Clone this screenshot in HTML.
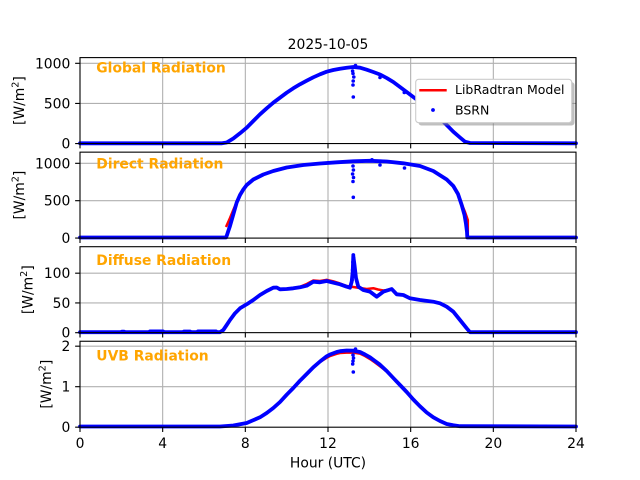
<!DOCTYPE html>
<html>
<head>
<meta charset="utf-8">
<style>
  html, body { margin: 0; padding: 0; background: #ffffff; }
  svg { display: block; }
  text { font-family: "DejaVu Sans", "Liberation Sans", sans-serif; }
</style>
</head>
<body>
<svg width="640" height="480" viewBox="0 0 640 480" xmlns="http://www.w3.org/2000/svg">
  <rect x="0" y="0" width="640" height="480" fill="#ffffff"/>

  <!-- ===== GRID ===== -->
  <g stroke="#b0b0b0" stroke-width="1.1" fill="none">
    <path d="M162.67 57.6V143.55 M245.33 57.6V143.55 M328 57.6V143.55 M410.67 57.6V143.55 M493.33 57.6V143.55"/>
    <path d="M162.67 152.15V238.1 M245.33 152.15V238.1 M328 152.15V238.1 M410.67 152.15V238.1 M493.33 152.15V238.1"/>
    <path d="M162.67 246.7V332.65 M245.33 246.7V332.65 M328 246.7V332.65 M410.67 246.7V332.65 M493.33 246.7V332.65"/>
    <path d="M162.67 341.25V427.2 M245.33 341.25V427.2 M328 341.25V427.2 M410.67 341.25V427.2 M493.33 341.25V427.2"/>
    <path d="M80 103.4H576 M80 63.3H576"/>
    <path d="M80 200.7H576 M80 163.3H576"/>
    <path d="M80 302.9H576 M80 273.15H576"/>
    <path d="M80 386.7H576 M80 346.2H576"/>
  </g>

  <!-- ===== AXES 1: GLOBAL ===== -->
  <polyline fill="none" stroke="#ff0000" stroke-width="2.5" stroke-linejoin="round"
    points="80,143.3 222,143.3 226.7,142.5 233.3,138.5 240,133.3 246.7,127.7 253.3,121 260,114.3 266.7,108.3 273.3,102.7 280,97.7 286.7,92.7 293.3,88.3 300,84.3 306.7,80.7 313.3,77.3 320,74.3 326.7,71.7 333.3,70 340,68.7 346.7,67.8 353.3,67.2 360,67.7 366.7,69.7 373.3,72 380,74.5 386.7,78 393.3,82 400,87 406.7,92 413.3,97 420,102 426.7,107.5 433.3,113 440,118.3 446.7,125 453.3,131.7 460,137.5 465,141.7 470,143 576,143.3"/>
  <polyline fill="none" stroke="#0000ff" stroke-width="3.8" stroke-linejoin="round" stroke-linecap="round"
    points="80,143.3 222,143.3 226.7,142.5 233.3,138.5 240,133.3 246.7,127.7 253.3,121 260,114.3 266.7,108.3 273.3,102.7 280,97.7 286.7,92.7 293.3,88.3 300,84.3 306.7,80.7 313.3,77.3 320,74.3 326.7,71.7 333.3,70 340,68.7 346.7,67.8 353.3,67 360,67.7 366.7,69.7 373.3,72 380,74.5 386.7,78 393.3,82 400,87 406.7,92 413.3,97 420,102 426.7,107.5 433.3,113 440,118.3 446.7,125 453.3,131.7 460,137.5 465,141.7 470,143 576,143.3"/>
  <g fill="#0000ff">
    <circle cx="353.3" cy="97" r="1.8"/>
    <circle cx="353" cy="85" r="1.8"/>
    <circle cx="353.2" cy="81" r="1.8"/>
    <circle cx="353.8" cy="77" r="1.8"/>
    <circle cx="353" cy="73.5" r="1.8"/>
    <circle cx="352.6" cy="71" r="1.8"/>
    <circle cx="380" cy="77.5" r="1.8"/>
    <circle cx="404.3" cy="92.5" r="1.8"/>
    <circle cx="355.5" cy="65.5" r="1.8"/>
  </g>

  <!-- ===== AXES 2: DIRECT ===== -->
  <polyline fill="none" stroke="#ff0000" stroke-width="2.5" stroke-linejoin="round"
    points="226,227 230,218 233.3,210 236.7,202 240,195 243.3,189.5 246.7,185 253.3,179.5 263.3,174.5 273.3,171 286.7,167.5 303.3,165 320,163.5 336.7,162.3 353.3,161.3 370,160.8 386.7,161.5 403.3,163.3 420,166 433.3,171 446.7,179.5 453.3,186 458,194 461.7,204 465,212 467.8,220 467.8,237.5"/>
  <polyline fill="none" stroke="#0000ff" stroke-width="3.8" stroke-linejoin="round" stroke-linecap="round"
    points="80,237.5 226,237.5 227,235 228.3,231 230,226 233.3,214.5 236.7,202.5 240,195 243.3,189.5 246.7,185 253.3,179.5 263.3,174.5 273.3,171 286.7,167.5 303.3,165 320,163.5 336.7,162.3 353.3,161.3 370,160.8 386.7,161.5 403.3,163.3 420,166 433.3,171 446.7,179.5 453.3,186 458,194 461.7,205 464.5,215 466,224 467,232 467.3,237.5 576,237.5"/>
  <g fill="#0000ff">
    <circle cx="353.3" cy="197.3" r="1.8"/>
    <circle cx="353" cy="166" r="1.8"/>
    <circle cx="353.4" cy="170" r="1.8"/>
    <circle cx="352.6" cy="174" r="1.8"/>
    <circle cx="353.5" cy="177.5" r="1.8"/>
    <circle cx="353" cy="181.5" r="1.8"/>
    <circle cx="380" cy="165" r="1.8"/>
    <circle cx="404.5" cy="168" r="1.8"/>
    <circle cx="372" cy="159.8" r="1.8"/>
  </g>

  <!-- ===== AXES 3: DIFFUSE ===== -->
  <polyline fill="none" stroke="#ff0000" stroke-width="2.5" stroke-linejoin="round"
    points="80,332.2 220,332.2 223.3,330 226.7,325 230,320 235,313.3 240,308.3 246.7,304.3 253.3,300 260,295 266.7,291 273.3,287.7 276.7,287.5 280,289.3 286.7,289 293.3,288 300,286.8 306.7,284 313.3,280.5 320,281 326.7,279.8 333.3,281.3 340,283.5 346.7,286 353.3,287 360,288 366.7,289 373.3,288.2 378,289.5 383.3,290.5 391.7,289.5 396.7,294 403.3,295 410,298.3 420,300 433.3,301.7 440,303.3 446.7,306.7 453.3,311.7 460,320 466.7,328.3 470,332.2 576,332.2"/>
  <polyline fill="none" stroke="#0000ff" stroke-width="3.8" stroke-linejoin="round" stroke-linecap="round"
    points="80,332.2 220,332.2 223.3,330 226.7,325 230,320 235,313.3 240,308.3 246.7,304.3 253.3,300 260,295 266.7,291 273.3,287.7 276.7,287.5 280,289.3 286.7,289 293.3,288.3 300,287.3 306.7,285.7 313.3,281.7 320,282.3 326.7,281 333.3,282.7 340,284.3 346.7,286.7 350,287.7 351.7,281.7 352.7,271.7 353.3,256 354.5,265 356,278 358.3,286.7 363.3,290 370,291.7 376.7,296.7 383.3,291.7 391.7,289 396.7,294.3 403.3,295 410,298.3 420,300 433.3,301.7 440,303.3 446.7,306.7 453.3,311.7 460,320 466.7,328.3 470,332.2 576,332.2"/>
  <g fill="#0000ff">
    <circle cx="353.3" cy="255" r="1.9"/>
    <circle cx="353.5" cy="258" r="1.9"/>
    <circle cx="353" cy="262" r="1.9"/>
    <circle cx="353.2" cy="266" r="1.9"/>
    <circle cx="352.7" cy="270" r="1.9"/>
    <circle cx="352.4" cy="275" r="1.9"/>
    <circle cx="352" cy="280" r="1.9"/>
  </g>
  <g stroke="#0000ff" stroke-width="3.8" stroke-linecap="round">
    <path d="M122 331.6H124 M150 331.4H163 M184 331.5H190 M198 331.4H216"/>
  </g>

  <!-- ===== AXES 4: UVB ===== -->
  <polyline fill="none" stroke="#ff0000" stroke-width="2.5" stroke-linejoin="round"
    points="80,426.5 220,426.5 233.3,425.5 246.7,423 260,417.3 266.7,413 273.3,408 280,402 286.7,394.7 293.3,388 300,380.7 306.7,374 313.3,367.3 320,362 326.7,357.8 330,356 336.7,353.8 340,353 346.7,352.6 353.3,352.6 360,353.6 365,356 370,359 375,362.5 380,366.3 386.7,371.5 393.3,378 400,385 406.7,392 413.3,399.5 420,406.3 426.7,412.5 433.3,417.3 440,421 446.7,424 453.3,425.3 460,426.2 576,426.5"/>
  <polyline fill="none" stroke="#0000ff" stroke-width="3.8" stroke-linejoin="round" stroke-linecap="round"
    points="80,426.5 220,426.5 233.3,425.5 246.7,423 260,417.3 266.7,413 273.3,408 280,402 286.7,394.7 293.3,388 300,380.7 306.7,374 313.3,367.3 320,361.5 326.7,356.3 330,354.5 336.7,352 340,351.2 346.7,350.5 353.3,350.7 360,352 365,354.5 370,357.3 375,361 380,364.7 386.7,371 393.3,378 400,385 406.7,392 413.3,399.5 420,406.3 426.7,412.5 433.3,417.3 440,421 446.7,424 453.3,425.3 460,426.2 576,426.5"/>
  <g fill="#0000ff">
    <circle cx="353.3" cy="372" r="1.8"/>
    <circle cx="353" cy="355" r="1.8"/>
    <circle cx="353.5" cy="358" r="1.8"/>
    <circle cx="353" cy="361" r="1.8"/>
    <circle cx="352.7" cy="364" r="1.8"/>
    <circle cx="355.5" cy="349" r="1.8"/>
  </g>

  <!-- ===== SPINES ===== -->
  <g fill="none" stroke="#000000" stroke-width="1.1">
    <rect x="80" y="57.6" width="496" height="85.95"/>
    <rect x="80" y="152.15" width="496" height="85.95"/>
    <rect x="80" y="246.7" width="496" height="85.95"/>
    <rect x="80" y="341.25" width="496" height="85.95"/>
  </g>

  <!-- ===== TICKS ===== -->
  <g stroke="#000000" stroke-width="1.1">
    <path d="M80 143.55v4.86 M162.67 143.55v4.86 M245.33 143.55v4.86 M328 143.55v4.86 M410.67 143.55v4.86 M493.33 143.55v4.86 M576 143.55v4.86"/>
    <path d="M80 238.1v4.86 M162.67 238.1v4.86 M245.33 238.1v4.86 M328 238.1v4.86 M410.67 238.1v4.86 M493.33 238.1v4.86 M576 238.1v4.86"/>
    <path d="M80 332.65v4.86 M162.67 332.65v4.86 M245.33 332.65v4.86 M328 332.65v4.86 M410.67 332.65v4.86 M493.33 332.65v4.86 M576 332.65v4.86"/>
    <path d="M80 427.2v4.86 M162.67 427.2v4.86 M245.33 427.2v4.86 M328 427.2v4.86 M410.67 427.2v4.86 M493.33 427.2v4.86 M576 427.2v4.86"/>
    <path d="M80 143.55h-4.86 M80 103.4h-4.86 M80 63.3h-4.86"/>
    <path d="M80 238.1h-4.86 M80 200.7h-4.86 M80 163.3h-4.86"/>
    <path d="M80 332.65h-4.86 M80 302.9h-4.86 M80 273.15h-4.86"/>
    <path d="M80 427.2h-4.86 M80 386.7h-4.86 M80 346.2h-4.86"/>
  </g>

  <!-- ===== Y TICK LABELS ===== -->
  <g font-size="13.89" fill="#000000" text-anchor="end">
    <text x="70.3" y="148.6">0</text>
    <text x="70.3" y="108.4">500</text>
    <text x="70.3" y="68.3">1000</text>

    <text x="70.3" y="243.1">0</text>
    <text x="70.3" y="205.7">500</text>
    <text x="70.3" y="168.3">1000</text>

    <text x="70.3" y="337.7">0</text>
    <text x="70.3" y="307.9">50</text>
    <text x="70.3" y="278.2">100</text>

    <text x="70.3" y="432.2">0</text>
    <text x="70.3" y="391.7">1</text>
    <text x="70.3" y="351.2">2</text>
  </g>

  <!-- ===== X TICK LABELS ===== -->
  <g font-size="13.89" fill="#000000" text-anchor="middle">
    <text x="80" y="448">0</text>
    <text x="162.67" y="448">4</text>
    <text x="245.33" y="448">8</text>
    <text x="328" y="448">12</text>
    <text x="410.67" y="448">16</text>
    <text x="493.33" y="448">20</text>
    <text x="576" y="448">24</text>
  </g>
  <text x="328" y="467.5" font-size="13.89" text-anchor="middle" fill="#000000">Hour (UTC)</text>

  <!-- ===== TITLE ===== -->
  <text x="328" y="49" font-size="13.89" text-anchor="middle" fill="#000000">2025-10-05</text>

  <!-- ===== Y LABELS ===== -->
  <g font-size="13.89" fill="#000000" text-anchor="middle">
    <text transform="translate(24.2,100.6) rotate(-90)">[W/m<tspan font-size="9.7" dy="-5.5">2</tspan><tspan dy="5.5">]</tspan></text>
    <text transform="translate(24.2,195.1) rotate(-90)">[W/m<tspan font-size="9.7" dy="-5.5">2</tspan><tspan dy="5.5">]</tspan></text>
    <text transform="translate(32.5,289.7) rotate(-90)">[W/m<tspan font-size="9.7" dy="-5.5">2</tspan><tspan dy="5.5">]</tspan></text>
    <text transform="translate(50.9,384.2) rotate(-90)">[W/m<tspan font-size="9.7" dy="-5.5">2</tspan><tspan dy="5.5">]</tspan></text>
  </g>

  <!-- ===== PANEL LABELS ===== -->
  <g font-size="13.89" font-weight="bold" fill="#ffa500">
    <text x="96.3" y="72.5">Global Radiation</text>
    <text x="96.3" y="168.4">Direct Radiation</text>
    <text x="96.3" y="264.8">Diffuse Radiation</text>
    <text x="96.3" y="360.6">UVB Radiation</text>
  </g>

  <!-- ===== LEGEND ===== -->
  <rect x="418.5" y="82.1" width="156" height="43.4" rx="3" ry="3" fill="#808080" fill-opacity="0.5"/>
  <rect x="415.7" y="79.3" width="156" height="43.4" rx="3" ry="3" fill="#ffffff" stroke="#cccccc" stroke-width="1.1"/>
  <line x1="419.3" y1="90.2" x2="446.7" y2="90.2" stroke="#ff0000" stroke-width="2.5"/>
  <circle cx="433" cy="110" r="1.9" fill="#0000ff"/>
  <g font-size="12.5" fill="#000000">
    <text x="455" y="93.9">LibRadtran Model</text>
    <text x="455" y="114.5">BSRN</text>
  </g>
</svg>
</body>
</html>
